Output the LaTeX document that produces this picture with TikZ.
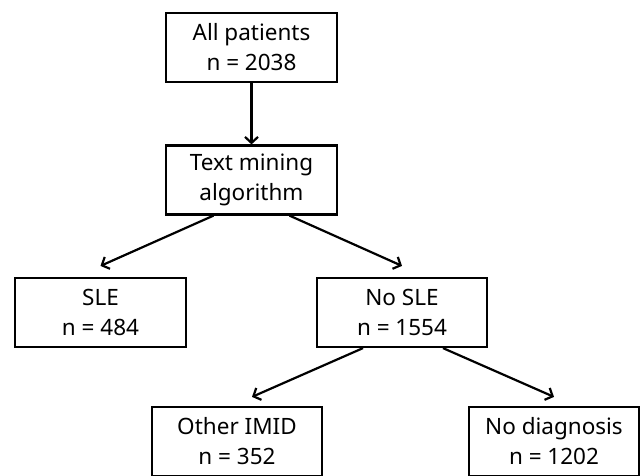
\documentclass[tikz,border=0pt]{standalone}
\usepackage{fontspec}
\setmainfont{Noto Sans}
\usetikzlibrary{arrows.meta}
\begin{document}
\begin{tikzpicture}[x=1pt, y=-1pt, line width=2.2pt,
  box/.style={draw, rectangle, minimum width=171pt, minimum height=69pt, align=center, inner sep=0pt, font=\fontsize{22.5}{30}\selectfont},
  arr/.style={-{Straight Barb[length=6pt,width=13pt]}}]
\useasboundingbox (0,0) rectangle (641,475);
\node[box] (all) at (251.5,47.5){All patients\\n = 2038};
\node[box] (mine) at (251.5,180){Text mining\\algorithm};
\draw[arr](all) -- (mine);
\node[box] (sle) at (100.5,312.5){SLE\\n = 484};
\node[box, minimum width=170pt] (nosle) at (402,312.5){No SLE\\n = 1554};
\draw[arr]([xshift=-38pt]mine.south) -- ([yshift=11pt]sle.north);
\draw[arr]([xshift=38pt]mine.south) -- ([yshift=11pt]nosle.north);
\node[box, minimum width=170pt] (imid) at (237,441.5){Other IMID\\n = 352};
\node[box, minimum width=170pt] (nodiag) at (554,441.5){No diagnosis\\n = 1202};
\draw[arr]([xshift=-39pt]nosle.south) -- ([xshift=15pt,yshift=9pt]imid.north);
\draw[arr]([xshift=41pt]nosle.south) -- ([yshift=9pt]nodiag.north);
\end{tikzpicture}
\end{document}
